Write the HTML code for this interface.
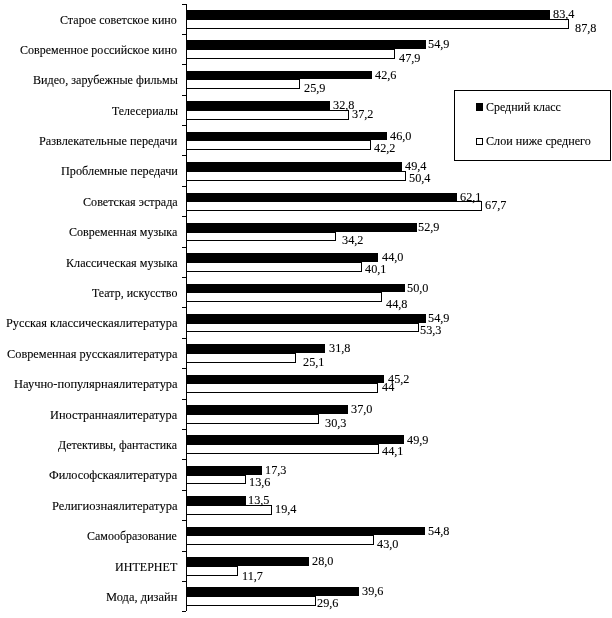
<!DOCTYPE html>
<html><head><meta charset="utf-8"><style>
html,body{margin:0;padding:0;background:#fff;width:612px;height:618px;overflow:hidden;position:relative}
#w{position:absolute;left:0;top:0;width:612px;height:618px;filter:grayscale(1)}
svg{position:absolute;left:0;top:0}
.t{position:absolute;font-family:"Liberation Serif",serif;font-size:12.25px;line-height:14px;white-space:nowrap;color:#000;transform-origin:0 0;-webkit-text-stroke:0.1px #000}
</style></head><body>
<div id="w">
<svg width="612" height="618" viewBox="0 0 612 618" shape-rendering="crispEdges">
<rect x="186" y="4" width="1" height="607" fill="#000"/>
<rect x="182" y="4" width="4" height="1" fill="#000"/>
<rect x="182" y="34" width="4" height="1" fill="#000"/>
<rect x="182" y="64" width="4" height="1" fill="#000"/>
<rect x="182" y="95" width="4" height="1" fill="#000"/>
<rect x="182" y="125" width="4" height="1" fill="#000"/>
<rect x="182" y="155" width="4" height="1" fill="#000"/>
<rect x="182" y="186" width="4" height="1" fill="#000"/>
<rect x="182" y="216" width="4" height="1" fill="#000"/>
<rect x="182" y="247" width="4" height="1" fill="#000"/>
<rect x="182" y="277" width="4" height="1" fill="#000"/>
<rect x="182" y="307" width="4" height="1" fill="#000"/>
<rect x="182" y="338" width="4" height="1" fill="#000"/>
<rect x="182" y="368" width="4" height="1" fill="#000"/>
<rect x="182" y="399" width="4" height="1" fill="#000"/>
<rect x="182" y="429" width="4" height="1" fill="#000"/>
<rect x="182" y="459" width="4" height="1" fill="#000"/>
<rect x="182" y="490" width="4" height="1" fill="#000"/>
<rect x="182" y="520" width="4" height="1" fill="#000"/>
<rect x="182" y="551" width="4" height="1" fill="#000"/>
<rect x="182" y="581" width="4" height="1" fill="#000"/>
<rect x="182" y="611" width="4" height="1" fill="#000"/>
<rect x="186" y="10" width="364" height="9" fill="#000"/>
<rect x="186" y="19" width="383" height="1" fill="#000"/>
<rect x="186" y="28" width="383" height="1" fill="#000"/>
<rect x="568" y="19" width="1" height="10" fill="#000"/>
<rect x="186" y="40" width="240" height="9" fill="#000"/>
<rect x="186" y="49" width="209" height="1" fill="#000"/>
<rect x="186" y="58" width="209" height="1" fill="#000"/>
<rect x="394" y="49" width="1" height="10" fill="#000"/>
<rect x="186" y="71" width="186" height="8" fill="#000"/>
<rect x="186" y="79" width="114" height="1" fill="#000"/>
<rect x="186" y="88" width="114" height="1" fill="#000"/>
<rect x="299" y="79" width="1" height="10" fill="#000"/>
<rect x="186" y="101" width="144" height="9" fill="#000"/>
<rect x="186" y="110" width="163" height="1" fill="#000"/>
<rect x="186" y="119" width="163" height="1" fill="#000"/>
<rect x="348" y="110" width="1" height="10" fill="#000"/>
<rect x="186" y="132" width="201" height="8" fill="#000"/>
<rect x="186" y="140" width="185" height="1" fill="#000"/>
<rect x="186" y="149" width="185" height="1" fill="#000"/>
<rect x="370" y="140" width="1" height="10" fill="#000"/>
<rect x="186" y="162" width="216" height="9" fill="#000"/>
<rect x="186" y="171" width="220" height="1" fill="#000"/>
<rect x="186" y="180" width="220" height="1" fill="#000"/>
<rect x="405" y="171" width="1" height="10" fill="#000"/>
<rect x="186" y="193" width="271" height="8" fill="#000"/>
<rect x="186" y="201" width="296" height="1" fill="#000"/>
<rect x="186" y="210" width="296" height="1" fill="#000"/>
<rect x="481" y="201" width="1" height="10" fill="#000"/>
<rect x="186" y="223" width="231" height="9" fill="#000"/>
<rect x="186" y="232" width="150" height="1" fill="#000"/>
<rect x="186" y="240" width="150" height="1" fill="#000"/>
<rect x="335" y="232" width="1" height="9" fill="#000"/>
<rect x="186" y="253" width="192" height="9" fill="#000"/>
<rect x="186" y="262" width="176" height="1" fill="#000"/>
<rect x="186" y="271" width="176" height="1" fill="#000"/>
<rect x="361" y="262" width="1" height="10" fill="#000"/>
<rect x="186" y="284" width="219" height="8" fill="#000"/>
<rect x="186" y="292" width="196" height="1" fill="#000"/>
<rect x="186" y="301" width="196" height="1" fill="#000"/>
<rect x="381" y="292" width="1" height="10" fill="#000"/>
<rect x="186" y="314" width="240" height="9" fill="#000"/>
<rect x="186" y="323" width="233" height="1" fill="#000"/>
<rect x="186" y="331" width="233" height="1" fill="#000"/>
<rect x="418" y="323" width="1" height="9" fill="#000"/>
<rect x="186" y="344" width="139" height="9" fill="#000"/>
<rect x="186" y="353" width="110" height="1" fill="#000"/>
<rect x="186" y="362" width="110" height="1" fill="#000"/>
<rect x="295" y="353" width="1" height="10" fill="#000"/>
<rect x="186" y="375" width="198" height="8" fill="#000"/>
<rect x="186" y="383" width="192" height="1" fill="#000"/>
<rect x="186" y="392" width="192" height="1" fill="#000"/>
<rect x="377" y="383" width="1" height="10" fill="#000"/>
<rect x="186" y="405" width="162" height="9" fill="#000"/>
<rect x="186" y="414" width="133" height="1" fill="#000"/>
<rect x="186" y="423" width="133" height="1" fill="#000"/>
<rect x="318" y="414" width="1" height="10" fill="#000"/>
<rect x="186" y="435" width="218" height="9" fill="#000"/>
<rect x="186" y="444" width="193" height="1" fill="#000"/>
<rect x="186" y="453" width="193" height="1" fill="#000"/>
<rect x="378" y="444" width="1" height="10" fill="#000"/>
<rect x="186" y="466" width="76" height="9" fill="#000"/>
<rect x="186" y="475" width="60" height="1" fill="#000"/>
<rect x="186" y="483" width="60" height="1" fill="#000"/>
<rect x="245" y="475" width="1" height="9" fill="#000"/>
<rect x="186" y="496" width="60" height="9" fill="#000"/>
<rect x="186" y="505" width="86" height="1" fill="#000"/>
<rect x="186" y="514" width="86" height="1" fill="#000"/>
<rect x="271" y="505" width="1" height="10" fill="#000"/>
<rect x="186" y="527" width="239" height="8" fill="#000"/>
<rect x="186" y="535" width="188" height="1" fill="#000"/>
<rect x="186" y="544" width="188" height="1" fill="#000"/>
<rect x="373" y="535" width="1" height="10" fill="#000"/>
<rect x="186" y="557" width="123" height="9" fill="#000"/>
<rect x="186" y="566" width="52" height="1" fill="#000"/>
<rect x="186" y="575" width="52" height="1" fill="#000"/>
<rect x="237" y="566" width="1" height="10" fill="#000"/>
<rect x="186" y="587" width="173" height="9" fill="#000"/>
<rect x="186" y="596" width="130" height="1" fill="#000"/>
<rect x="186" y="605" width="130" height="1" fill="#000"/>
<rect x="315" y="596" width="1" height="10" fill="#000"/>
<rect x="454" y="90" width="157" height="1" fill="#000"/>
<rect x="454" y="160" width="157" height="1" fill="#000"/>
<rect x="454" y="90" width="1" height="71" fill="#000"/>
<rect x="610" y="90" width="1" height="71" fill="#000"/>
<rect x="476" y="103" width="7" height="8" fill="#000"/>
<rect x="476" y="138" width="7" height="1" fill="#000"/>
<rect x="476" y="144" width="7" height="1" fill="#000"/>
<rect x="476" y="138" width="1" height="7" fill="#000"/>
<rect x="482" y="138" width="1" height="7" fill="#000"/>
</svg>
<div class="t" style="left:553px;top:7px;transform:scaleY(1.0)">83,4</div>
<div class="t" style="left:575px;top:21px;transform:scaleY(1.0)">87,8</div>
<div class="t" style="left:60px;top:13px;transform:scale(0.9832,1.0)">Старое советское кино</div>
<div class="t" style="left:428px;top:37px;transform:scaleY(1.0)">54,9</div>
<div class="t" style="left:399px;top:51px;transform:scaleY(1.0)">47,9</div>
<div class="t" style="left:20px;top:43px;transform:scale(0.9812,1.0)">Современное российское кино</div>
<div class="t" style="left:375px;top:68px;transform:scaleY(1.0)">42,6</div>
<div class="t" style="left:304px;top:81px;transform:scaleY(1.0)">25,9</div>
<div class="t" style="left:33px;top:73px;transform:scale(0.9897,1.0)">Видео, зарубежные фильмы</div>
<div class="t" style="left:333px;top:98px;transform:scaleY(1.0)">32,8</div>
<div class="t" style="left:352px;top:107px;transform:scaleY(1.0)">37,2</div>
<div class="t" style="left:112px;top:104px;transform:scale(0.9701,1.0)">Телесериалы</div>
<div class="t" style="left:390px;top:129px;transform:scaleY(1.0)">46,0</div>
<div class="t" style="left:374px;top:141px;transform:scaleY(1.0)">42,2</div>
<div class="t" style="left:39px;top:134px;transform:scaleY(1.0)">Развлекательные передачи</div>
<div class="t" style="left:405px;top:159px;transform:scaleY(1.0)">49,4</div>
<div class="t" style="left:409px;top:171px;transform:scaleY(1.0)">50,4</div>
<div class="t" style="left:61px;top:164px;transform:scaleY(1.0)">Проблемные передачи</div>
<div class="t" style="left:460px;top:190px;transform:scaleY(1.0)">62,1</div>
<div class="t" style="left:485px;top:198px;transform:scaleY(1.0)">67,7</div>
<div class="t" style="left:83px;top:195px;transform:scale(0.9895,1.0)">Советская эстрада</div>
<div class="t" style="left:418px;top:220px;transform:scaleY(1.0)">52,9</div>
<div class="t" style="left:342px;top:233px;transform:scaleY(1.0)">34,2</div>
<div class="t" style="left:69px;top:225px;transform:scale(0.9818,1.0)">Современная музыка</div>
<div class="t" style="left:382px;top:250px;transform:scaleY(1.0)">44,0</div>
<div class="t" style="left:365px;top:262px;transform:scaleY(1.0)">40,1</div>
<div class="t" style="left:66px;top:256px;transform:scale(0.9910,1.0)">Классическая музыка</div>
<div class="t" style="left:407px;top:281px;transform:scaleY(1.0)">50,0</div>
<div class="t" style="left:386px;top:297px;transform:scaleY(1.0)">44,8</div>
<div class="t" style="left:92px;top:286px;transform:scale(0.9770,1.0)">Театр, искусство</div>
<div class="t" style="left:428px;top:311px;transform:scaleY(1.0)">54,9</div>
<div class="t" style="left:420px;top:323px;transform:scaleY(1.0)">53,3</div>
<div class="t" style="left:6px;top:316px;transform:scale(1.0059,1.0)">Русская классическаялитература</div>
<div class="t" style="left:329px;top:341px;transform:scaleY(1.0)">31,8</div>
<div class="t" style="left:303px;top:355px;transform:scaleY(1.0)">25,1</div>
<div class="t" style="left:7px;top:347px;transform:scale(1.0059,1.0)">Современная русскаялитература</div>
<div class="t" style="left:388px;top:372px;transform:scaleY(1.0)">45,2</div>
<div class="t" style="left:382px;top:380px;transform:scaleY(1.0)">44</div>
<div class="t" style="left:14px;top:377px;transform:scale(1.0189,1.0)">Научно-популярнаялитература</div>
<div class="t" style="left:351px;top:402px;transform:scaleY(1.0)">37,0</div>
<div class="t" style="left:325px;top:416px;transform:scaleY(1.0)">30,3</div>
<div class="t" style="left:50px;top:408px;transform:scale(1.0080,1.0)">Иностраннаялитература</div>
<div class="t" style="left:407px;top:433px;transform:scaleY(1.0)">49,9</div>
<div class="t" style="left:382px;top:444px;transform:scaleY(1.0)">44,1</div>
<div class="t" style="left:58px;top:438px;transform:scale(0.9754,1.0)">Детективы, фантастика</div>
<div class="t" style="left:265px;top:463px;transform:scaleY(1.0)">17,3</div>
<div class="t" style="left:249px;top:475px;transform:scaleY(1.0)">13,6</div>
<div class="t" style="left:49px;top:468px;transform:scaleY(1.0)">Философскаялитература</div>
<div class="t" style="left:248px;top:493px;transform:scaleY(1.0)">13,5</div>
<div class="t" style="left:275px;top:502px;transform:scaleY(1.0)">19,4</div>
<div class="t" style="left:52px;top:499px;transform:scale(1.0248,1.0)">Религиознаялитература</div>
<div class="t" style="left:428px;top:524px;transform:scaleY(1.0)">54,8</div>
<div class="t" style="left:377px;top:537px;transform:scaleY(1.0)">43,0</div>
<div class="t" style="left:87px;top:529px;transform:scale(0.9783,1.0)">Самообразование</div>
<div class="t" style="left:312px;top:554px;transform:scaleY(1.0)">28,0</div>
<div class="t" style="left:242px;top:569px;transform:scaleY(1.0)">11,7</div>
<div class="t" style="left:115px;top:560px;transform:scale(0.9839,1.0)">ИНТЕРНЕТ</div>
<div class="t" style="left:362px;top:584px;transform:scaleY(1.0)">39,6</div>
<div class="t" style="left:317px;top:596px;transform:scaleY(1.0)">29,6</div>
<div class="t" style="left:106px;top:590px;transform:scale(1.0145,1.0)">Мода, дизайн</div>
<div class="t" style="left:486px;top:100px;transform:scale(0.9740,1.0)">Средний класс</div>
<div class="t" style="left:486px;top:134px;transform:scale(0.9906,1.0)">Слои ниже среднего</div>
</div>
</body></html>
